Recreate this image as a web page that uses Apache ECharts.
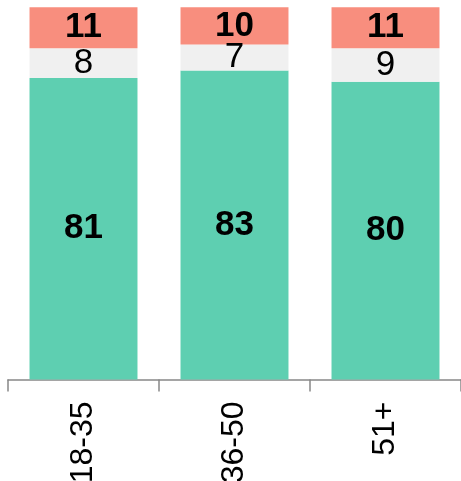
<!DOCTYPE html>
<html><head><meta charset="utf-8">
<script src="https://cdn.jsdelivr.net/npm/echarts@6/dist/echarts.min.js"></script>
<style>html,body{margin:0;padding:0;background:#fff}#c{width:461px;height:481px}</style>
</head><body><div id="c"></div>
<script>
var categories = ['18-35', '36-50', '51+'];
var greenValues = [81, 83, 80];
var grayValues = [8, 7, 9];
var redValues = [11, 10, 11];

var FONT = '"Liberation Sans Narrow","Arial Narrow","Liberation Sans",Arial,sans-serif';
function lbl(bold) {
  return {show: true, position: 'inside', color: '#000', fontFamily: FONT,
          fontSize: 35, fontWeight: bold ? 'bold' : 'normal'};
}
var chart = echarts.init(document.getElementById('c'), null, {renderer: 'canvas'});
chart.setOption({
  animation: false,
  grid: {left: 8, right: 0, top: 7.3, bottom: 101.5, containLabel: false, outerBoundsMode: 'none'},
  xAxis: {
    type: 'category', data: categories, boundaryGap: true,
    axisLine: {show: true, lineStyle: {color: '#888', width: 1.5}},
    axisTick: {show: true, length: 12, lineStyle: {color: '#888', width: 1.5}},
    axisLabel: {rotate: 90, margin: 22, color: '#000', fontFamily: FONT, fontSize: 32}
  },
  yAxis: {type: 'value', min: 0, max: 100, show: false, splitLine: {show: false}},
  series: [
    {type: 'bar', stack: 's', data: greenValues, barWidth: '71.5%',
     itemStyle: {color: '#5ecfb1'}, label: lbl(true)},
    {type: 'bar', stack: 's', data: grayValues,
     itemStyle: {color: '#f0f0f0'}, label: lbl(false)},
    {type: 'bar', stack: 's', data: redValues,
     itemStyle: {color: '#f88e7e'}, label: lbl(true)}
  ]
});
</script></body></html>
